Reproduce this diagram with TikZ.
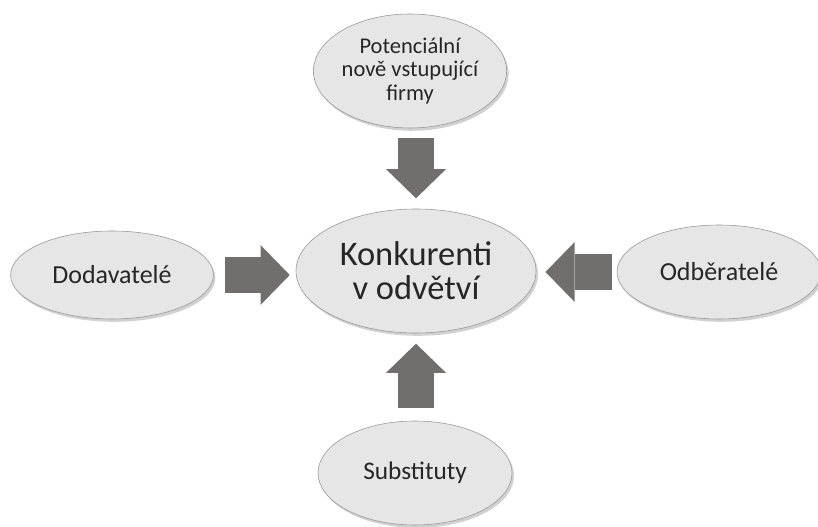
\documentclass[tikz,border=0pt]{standalone}
\usepackage{fontspec}
\setmainfont{Carlito}
\usepackage{xcolor}
\usepackage{tikz}
\usetikzlibrary{arrows.meta,positioning,shapes.geometric,shadows}

\definecolor{bubblefill}{RGB}{230,230,230}
\definecolor{bubbleline}{RGB}{150,150,150}
\definecolor{arrowgray}{RGB}{114,110,110}

\begin{document}
\begin{tikzpicture}[
        bubble/.style={ellipse, draw=bubbleline, fill=bubblefill, thin, inner sep=0pt,
            align=center, text=black!85,
            drop shadow={shadow xshift=0.05cm, shadow yshift=-0.07cm, opacity=0.3, fill=black!60}},
        force/.style={arrowgray, line width=0.9cm,
            -{Triangle[length=0.73cm, width=1.5cm, line width=0pt]}}
    ]
        \useasboundingbox (0,0) rectangle (20.45,13.175);

        % Competitors in the middle
        \node[bubble, minimum width=6cm, minimum height=3.1cm, font=\fontsize{24.5}{24}\selectfont]
            (konk) at (10.4,6.4) {Konkurenti\\v odvětví};

        % The four forces around it
        \node[bubble, minimum width=4.7cm, minimum height=2.85cm, font=\fontsize{16}{17}\selectfont]
            (nove) at (10.25,11.4) {Potenciální\\nově vstupující\\firmy};
        \node[bubble, minimum width=5.07cm, minimum height=2.2cm, font=\fontsize{18.5}{20}\selectfont]
            (dod) at (2.8,6.3) {Dodavatelé};
        \node[bubble, minimum width=5.1cm, minimum height=2.35cm, font=\fontsize{18.5}{20}\selectfont]
            (odb) at (17.975,6.375) {Odběratelé};
        \node[bubble, minimum width=4.85cm, minimum height=2.6cm, font=\fontsize{18}{20}\selectfont]
            (sub) at (10.375,1.35) {Substituty};

        % Block arrows pointing inwards
        \draw[force, shorten <=0.24cm, shorten >=0.26cm] (konk.north |- nove.south) -- (konk.north);
        \draw[force, shorten <=0.33cm, shorten >=0.26cm] (konk.south |- sub.north) -- (konk.south);
        \draw[force, shorten <=0.29cm, shorten >=0.15cm] (dod.east) -- (dod.east -| konk.west);
        \draw[force, shorten <=0.125cm, shorten >=0.23cm] (odb.west) -- (odb.west -| konk.east);

    \end{tikzpicture}
\end{document}
